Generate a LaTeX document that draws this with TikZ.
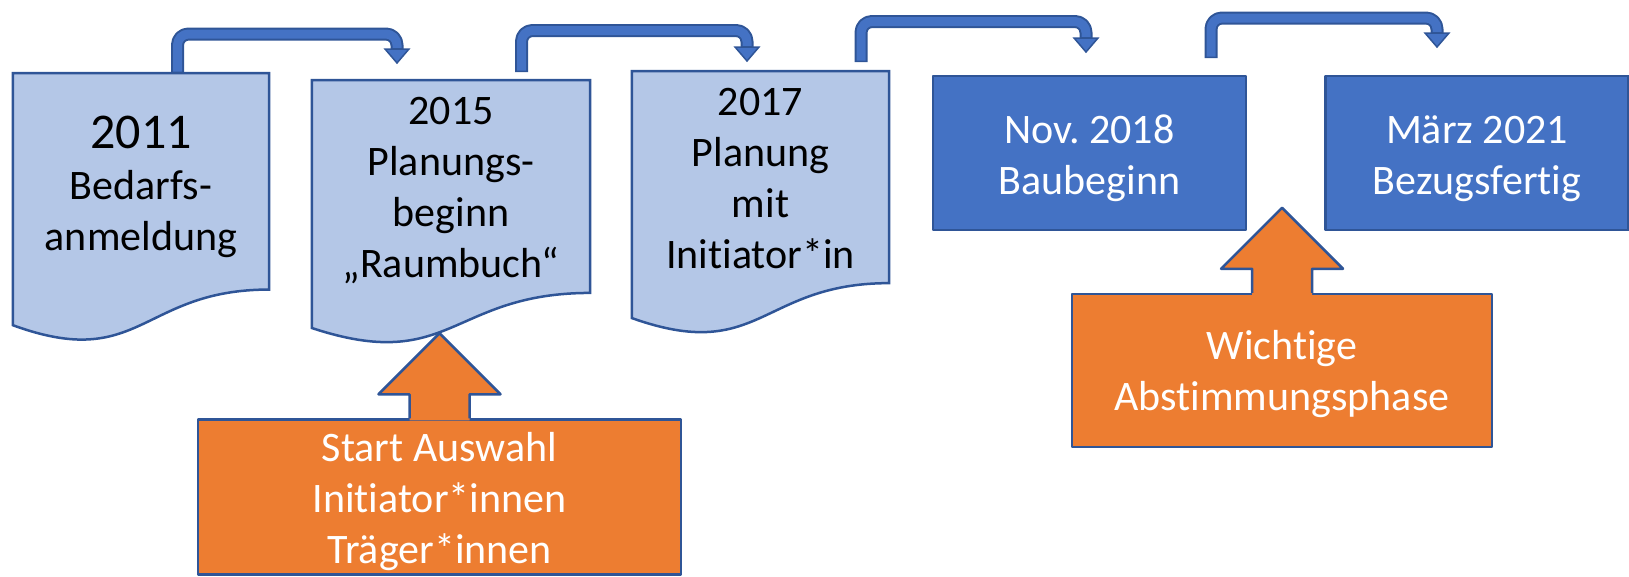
\documentclass[tikz,border=0pt]{standalone}
\usepackage{fontspec}
\setmainfont{Carlito}[Ligatures=NoCommon, Contextuals=NoAlternate]
\usepackage{tikz}
\usetikzlibrary{calc, backgrounds, positioning}
\definecolor{docblue}{RGB}{180,199,231}
\definecolor{boxblue}{RGB}{68,114,196}
\definecolor{edgeblue}{RGB}{47,85,151}
\definecolor{niceorange}{RGB}{237,125,49}
\newcommand\toprule{\rule{0pt}{39pt}}
\frenchspacing

\begin{document}
\begin{tikzpicture}[x=1pt, y=-1pt, line join=round,
    doc/.style={anchor=north, inner sep=0pt, align=center, font=\fontsize{42}{51}\selectfont},
    docline/.style={draw=edgeblue, fill=docblue, line width=2.5pt},
    milestone/.style={draw=edgeblue, fill=boxblue, line width=2.5pt, text=white, align=center, inner sep=0pt, font=\fontsize{42}{51}\selectfont},
    callout/.style={draw=edgeblue, fill=niceorange, line width=2.5pt, text=white, align=center, inner sep=0pt, font=\fontsize{42}{51}\selectfont},
    connout/.style={draw=edgeblue, line width=13pt, rounded corners=11pt},
    connin/.style={draw=boxblue, line width=9pt, rounded corners=11pt},
    connhead/.style={fill=boxblue, draw=edgeblue, line width=1.5pt, line join=miter}]
		\useasboundingbox (0,0) rectangle (1629,576);

		% documents (text part, outline drawn below)
		\node[doc, minimum width=256pt, minimum height=227pt] (d1) at (141,73) {{\fontsize{50}{51}\selectfont 2011}\\Bedarfs-\\anmeldung};
		\node[doc, minimum width=278pt, minimum height=221pt] (d2) at (451,80) {2015\\Planungs-\\beginn\\„Raumbuch“};
		\node[doc, minimum width=257pt, minimum height=215pt] (d3) at (760.5,71) {2017\\Planung\\mit\\Initiator*in};
		\begin{scope}[on background layer]
			\foreach \d/\h in {d1/270, d2/265.5, d3/264.5}
				\draw[docline] (\d.north west) -- (\d.north east) -- ([yshift=-0.802*\h pt]\d.north east)
					.. controls ([yshift=-0.802*\h pt]\d.north) and ([yshift=-1.1075*\h pt]\d.north) .. ([yshift=-0.934*\h pt]\d.north west) -- cycle;
		\end{scope}

		% milestones
		\node[milestone, minimum width=313pt, minimum height=154pt] (b4) at (1089.5,153) {\toprule Nov. 2018\\Baubeginn};
		\node[milestone, minimum width=303pt, minimum height=154pt, right=77pt of b4] (b5) {\toprule März 2021\\Bezugsfertig};

		% callouts with up arrow
		\node[callout, minimum width=483pt, minimum height=155pt] (o1) at (439.5,497) {\toprule Start Auswahl\\Initiator*innen\\Träger*innen};
		\node[callout, minimum width=420pt, minimum height=153pt] (o2) at (1282,370.5) {\rule{0pt}{36pt}Wichtige\\Abstimmungsphase};
		\foreach \o in {o1,o2} {
			\fill[niceorange] ([xshift=-30pt,yshift=-2pt]\o.north) -- ++(0,-26) -- ++(-31,0) -- ++(61,-61) -- ++(61,61) -- ++(-31,0) -- ++(0,26) -- cycle;
			\draw[edgeblue, line width=2.5pt] ([xshift=-30pt]\o.north) -- ++(0,-24) -- ++(-31,0) -- ++(61,-61) -- ++(61,61) -- ++(-31,0) -- ++(0,24);
		}

		% bent connectors
		\coordinate (s1) at (177.5,73);  \coordinate (t1) at (397,63);
		\coordinate (s2) at (521.5,72);  \coordinate (t2) at (747,61);
		\coordinate (s3) at (861,62);    \coordinate (t3) at (1086,52);
		\coordinate (s4) at (1211,58);   \coordinate (t4) at (1437,47);
		\foreach \s/\up/\t in {s1/39/t1, s2/41.5/t2, s3/40.5/t3, s4/40/t4} {
			\draw[connout] (\s) -- ++(0,-\up) -| ([yshift=14pt]\t);
			\draw[connin] ([yshift=1.5pt]\s) -- ++(0,-\up+1.5) -| ([yshift=15pt]\t);
			\filldraw[connhead] ([xshift=-12pt,yshift=14pt]\t) -- ([xshift=12pt,yshift=14pt]\t) -- (\t) -- cycle;
		}
\end{tikzpicture}
\end{document}
